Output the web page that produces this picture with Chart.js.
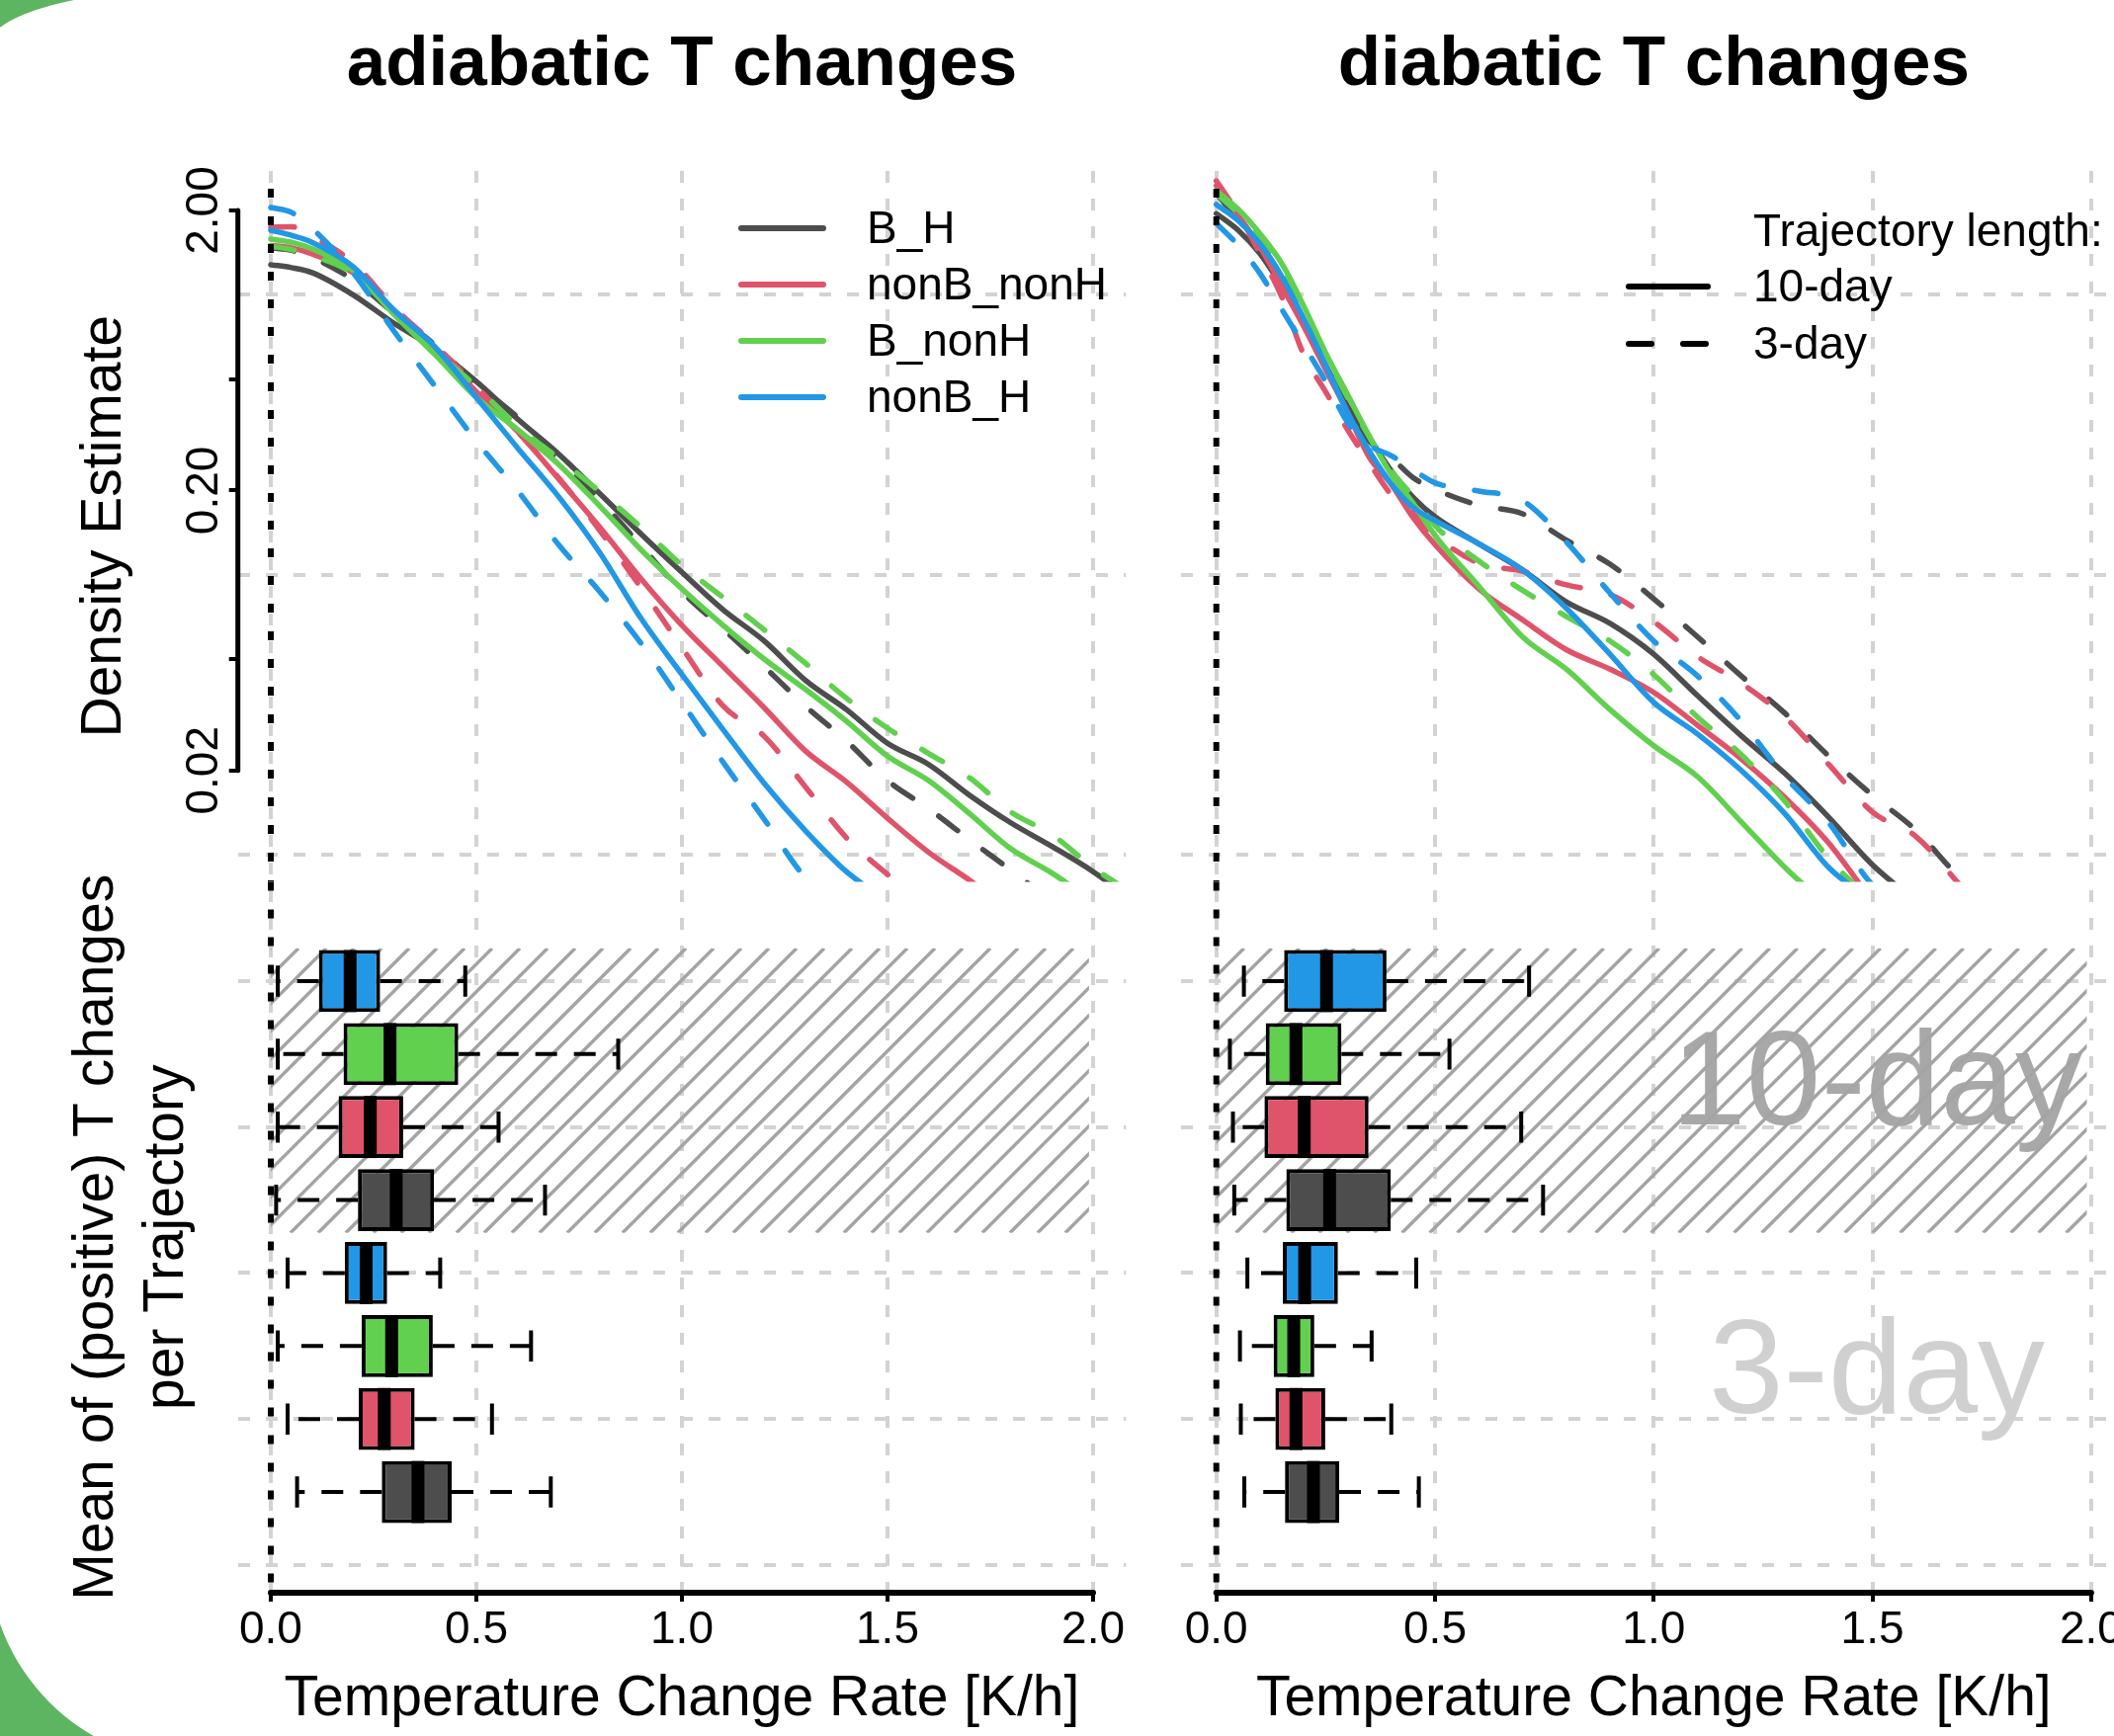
<!DOCTYPE html>
<html>
<head>
<meta charset="utf-8">
<script src="https://cdn.jsdelivr.net/npm/chart.js@4/dist/chart.umd.min.js"></script>
<style>
  html, body { margin: 0; padding: 0; width: 2139px; height: 1757px; overflow: hidden; background: #5db562; }
  #paper { position: absolute; left: -12px; top: -12px; width: 2200px; height: 1797px; background: #fff;
           border-radius: 220px 0 0 212px / 59px 0 0 212px; }
  canvas { position: absolute; top: 0; }
  #adia { left: 0; }
  #dia { left: 1150px; }
</style>
</head>
<body>
<div id="paper"></div>
<canvas id="adia" width="1150" height="1757"></canvas>
<canvas id="dia" width="1012" height="1757"></canvas>
<script>
const FONT = "'Liberation Sans', Arial, Helvetica, sans-serif";
Chart.defaults.font.family = FONT;
Chart.defaults.color = '#000';

// ---------- data ----------
const seriesNames = ['B_H', 'nonB_nonH', 'B_nonH', 'nonB_H'];
const trajLengths = ['10-day', '3-day'];

// density estimates, adiabatic panel
const xAdia = [0, 0.05, 0.1, 0.2, 0.3, 0.4, 0.5, 0.6, 0.7, 0.8, 0.9, 1.0, 1.1, 1.2, 1.3, 1.4, 1.5, 1.6, 1.7, 1.8, 1.9, 2.0, 2.1];
const adiaBH10   = [1.28, 1.25, 1.20, 1.00, 0.79, 0.64, 0.49, 0.36, 0.27, 0.195, 0.140, 0.102, 0.075, 0.058, 0.042, 0.033, 0.025, 0.021, 0.0163, 0.013, 0.0107, 0.0087, 0.0068];
const adiaBH3    = [1.47, 1.44, 1.36, 1.13, 0.86, 0.66, 0.48, 0.365, 0.255, 0.185, 0.127, 0.087, 0.064, 0.047, 0.034, 0.0255, 0.0184, 0.0146, 0.0113, 0.0088, 0.0068, null, null];
const adiaNBNH10 = [1.50, 1.47, 1.40, 1.20, 0.88, 0.64, 0.45, 0.325, 0.22, 0.148, 0.097, 0.066, 0.047, 0.0335, 0.0235, 0.0182, 0.0135, 0.0102, 0.0081, 0.0063, null, null, null];
const adiaNBNH3  = [1.74, 1.75, 1.62, 1.30, 0.90, 0.66, 0.47, 0.325, 0.222, 0.144, 0.09, 0.055, 0.034, 0.0265, 0.0175, 0.0115, 0.0085, 0.0065, null, null, null, null, null];
const adiaBNH10  = [1.58, 1.54, 1.46, 1.22, 0.85, 0.61, 0.43, 0.33, 0.248, 0.176, 0.123, 0.089, 0.066, 0.050, 0.039, 0.030, 0.0225, 0.0184, 0.014, 0.0105, 0.0086, 0.0068, null];
const adiaBNH3   = [1.49, 1.45, 1.38, 1.19, 0.86, 0.63, 0.47, 0.34, 0.26, 0.198, 0.148, 0.108, 0.083, 0.0636, 0.0483, 0.0362, 0.0283, 0.023, 0.0188, 0.0142, 0.0118, 0.009, 0.0072];
const adiaNBH10  = [1.70, 1.63, 1.54, 1.26, 0.88, 0.65, 0.43, 0.284, 0.19, 0.12, 0.07, 0.044, 0.028, 0.018, 0.0122, 0.0087, 0.0068, null, null, null, null, null, null];
const adiaNBH3   = [2.05, 1.97, 1.73, 1.2, 0.74, 0.47, 0.30, 0.20, 0.128, 0.087, 0.057, 0.035, 0.0214, 0.0134, 0.0083, 0.0065, null, null, null, null, null, null, null];

// density estimates, diabatic panel
const xDia = [0, 0.05, 0.1, 0.15, 0.2, 0.25, 0.3, 0.35, 0.4, 0.45, 0.5, 0.6, 0.7, 0.8, 0.9, 1.0, 1.1, 1.2, 1.3, 1.4, 1.5, 1.6, 1.7, 1.8];
const diaBH10   = [1.95, 1.70, 1.40, 1.07, 0.79, 0.56, 0.40, 0.308, 0.235, 0.189, 0.161, 0.129, 0.104, 0.080, 0.067, 0.052, 0.037, 0.0266, 0.0195, 0.0136, 0.0092, 0.0068, null, null];
const diaBH3    = [2.30, 1.85, 1.45, 1.07, 0.79, 0.56, 0.40, 0.30, 0.262, 0.222, 0.202, 0.177, 0.165, 0.133, 0.109, 0.082, 0.060, 0.0435, 0.032, 0.0225, 0.0163, 0.0122, 0.0083, 0.0065];
const diaNBNH10 = [2.45, 1.92, 1.48, 1.07, 0.77, 0.54, 0.38, 0.262, 0.21, 0.16, 0.128, 0.089, 0.069, 0.054, 0.046, 0.038, 0.029, 0.022, 0.016, 0.011, 0.0068, null, null, null];
const diaNBNH3  = [2.55, 1.95, 1.40, 0.98, 0.61, 0.45, 0.33, 0.25, 0.193, 0.165, 0.138, 0.110, 0.103, 0.092, 0.085, 0.068, 0.051, 0.041, 0.031, 0.021, 0.0142, 0.0116, 0.0078, null];
const diaBNH10  = [2.35, 2.02, 1.65, 1.29, 0.91, 0.62, 0.44, 0.312, 0.228, 0.18, 0.138, 0.091, 0.060, 0.046, 0.033, 0.0245, 0.019, 0.0131, 0.009, 0.0065, null, null, null, null];
const diaBNH3   = [2.30, 1.95, 1.60, 1.22, 0.88, 0.61, 0.43, 0.31, 0.235, 0.19, 0.15, 0.112, 0.088, 0.071, 0.058, 0.044, 0.031, 0.0228, 0.0155, 0.0097, 0.0068, null, null, null];
const diaNBH10  = [2.10, 1.84, 1.52, 1.16, 0.82, 0.56, 0.38, 0.276, 0.211, 0.174, 0.156, 0.129, 0.104, 0.076, 0.052, 0.035, 0.027, 0.020, 0.014, 0.009, 0.0068, null, null, null];
const diaNBH3   = [1.80, 1.50, 1.19, 0.885, 0.66, 0.49, 0.35, 0.29, 0.266, 0.237, 0.213, 0.199, 0.184, 0.131, 0.086, 0.058, 0.0435, 0.030, 0.019, 0.013, 0.0078, 0.0062, null, null];

// boxplots: rows from top to bottom
const boxSeries = ['nonB_H', 'B_nonH', 'nonB_nonH', 'B_H', 'nonB_H', 'B_nonH', 'nonB_nonH', 'B_H'];
const boxLength = ['10-day', '10-day', '10-day', '10-day', '3-day', '3-day', '3-day', '3-day'];
const boxPos = [1, 2, 3, 4, 5, 6, 7, 8];
const adiaLow  = [0.017, 0.017, 0.017, 0.013, 0.041, 0.017, 0.041, 0.064];
const adiaQ1   = [0.117, 0.177, 0.165, 0.212, 0.180, 0.221, 0.214, 0.270];
const adiaMed  = [0.193, 0.290, 0.242, 0.305, 0.232, 0.294, 0.276, 0.358];
const adiaQ3   = [0.266, 0.456, 0.322, 0.397, 0.283, 0.394, 0.350, 0.440];
const adiaHigh = [0.473, 0.845, 0.554, 0.667, 0.412, 0.633, 0.538, 0.681];
const diaLow   = [0.063, 0.031, 0.038, 0.041, 0.071, 0.054, 0.056, 0.064];
const diaQ1    = [0.155, 0.113, 0.110, 0.160, 0.152, 0.131, 0.135, 0.157];
const diaMed   = [0.252, 0.182, 0.201, 0.259, 0.202, 0.177, 0.182, 0.222];
const diaQ3    = [0.389, 0.286, 0.348, 0.399, 0.278, 0.224, 0.249, 0.281];
const diaHigh  = [0.715, 0.533, 0.697, 0.747, 0.457, 0.355, 0.400, 0.463];

// axes
const xTickVals = [0, 0.5, 1, 1.5, 2];
const densTickVals = [2, 0.5, 0.2, 0.05, 0.02];
const densLabelVals = [2, 0.2, 0.02];
const densGridVals = [1, 0.1, 0.01];
const boxGridVals = [1, 3, 5, 7, 9];
const hatchX = [0, 1.99];
const hatchPos = [0.55, 4.45];
const bandLabelX = 1.51;
const bandLabelPos = [2.96, 6.915];

// ---------- styles ----------
const seriesColors = { B_H: '#4d4d4d', nonB_nonH: '#df536b', B_nonH: '#61d04f', nonB_H: '#2297e6' };
const bandTextColors = ['#a8a8a8', '#d0d0d0'];
const gridGray = '#d3d3d3';
const gridDash = [12, 16];
const curveDash = { '10-day': [], '3-day': [24, 32] };
const clear = 'rgba(0,0,0,0)';
const hatchStep = 28;

function curveList(arrs) {
  // drawing order: first entry ends on top
  return [
    ['nonB_H', '10-day', arrs.NBH10], ['nonB_H', '3-day', arrs.NBH3],
    ['B_nonH', '10-day', arrs.BNH10], ['B_nonH', '3-day', arrs.BNH3],
    ['nonB_nonH', '10-day', arrs.NBNH10], ['nonB_nonH', '3-day', arrs.NBNH3],
    ['B_H', '10-day', arrs.BH10], ['B_H', '3-day', arrs.BH3]
  ];
}

function panelPlugins(p) {
  return [{
    id: 'hatchBand',
    beforeDatasetsDraw(chart) {
      const ctx = chart.ctx, sx = chart.scales.x, sy = chart.scales.yBox;
      ctx.save();
      if (p.bandText) {
        ctx.font = '136px ' + FONT;
        ctx.textAlign = 'center';
        ctx.textBaseline = 'alphabetic';
        trajLengths.forEach((t, i) => {
          ctx.fillStyle = bandTextColors[i];
          ctx.fillText(t, sx.getPixelForValue(bandLabelX), sy.getPixelForValue(bandLabelPos[i]));
        });
      }
      const l = sx.getPixelForValue(hatchX[0]), r = sx.getPixelForValue(hatchX[1]);
      const t = sy.getPixelForValue(hatchPos[0]), b = sy.getPixelForValue(hatchPos[1]);
      ctx.beginPath();
      ctx.rect(l, t, r - l, b - t);
      ctx.clip();
      ctx.strokeStyle = '#a4a4a4';
      ctx.lineWidth = 3.4;
      ctx.beginPath();
      for (let c = l + t; c <= r + b + hatchStep; c += hatchStep) {
        ctx.moveTo(c - b, b);
        ctx.lineTo(c - t, t);
      }
      ctx.stroke();
      ctx.restore();
    }
  }, {
    id: 'boxExtras',
    afterDatasetsDraw(chart) {
      const ctx = chart.ctx, sx = chart.scales.x, sy = chart.scales.yBox;
      const bi = chart.data.datasets.findIndex(d => d.type === 'bar');
      const meta = chart.getDatasetMeta(bi);
      ctx.save();
      ctx.strokeStyle = '#000';
      boxPos.forEach((pos, i) => {
        const h = meta.data[i].height;
        const py = sy.getPixelForValue(pos);
        const pLo = sx.getPixelForValue(p.low[i]), pQ1 = sx.getPixelForValue(p.q1[i]);
        const pMed = sx.getPixelForValue(p.med[i]);
        const pQ3 = sx.getPixelForValue(p.q3[i]), pHi = sx.getPixelForValue(p.high[i]);
        ctx.lineWidth = 4;
        ctx.setLineDash([22, 17]);
        ctx.beginPath();
        ctx.moveTo(pQ1, py); ctx.lineTo(pLo, py);
        ctx.moveTo(pQ3, py); ctx.lineTo(pHi, py);
        ctx.stroke();
        ctx.setLineDash([]);
        ctx.beginPath();
        ctx.moveTo(pLo, py - h / 4); ctx.lineTo(pLo, py + h / 4);
        ctx.moveTo(pHi, py - h / 4); ctx.lineTo(pHi, py + h / 4);
        ctx.stroke();
        ctx.lineWidth = 13;
        ctx.beginPath();
        ctx.moveTo(pMed, py - h / 2); ctx.lineTo(pMed, py + h / 2);
        ctx.stroke();
      });
      ctx.restore();
    }
  }, {
    id: 'axesAndLegend',
    afterDraw(chart) {
      const ctx = chart.ctx, sx = chart.scales.x, area = chart.chartArea;
      ctx.save();
      ctx.strokeStyle = '#000';
      ctx.lineCap = 'round';
      ctx.lineWidth = 6;
      ctx.beginPath();
      ctx.moveTo(sx.getPixelForValue(xTickVals[0]), area.bottom);
      ctx.lineTo(sx.getPixelForValue(xTickVals[xTickVals.length - 1]), area.bottom);
      ctx.stroke();
      if (p.showY) {
        const sy = chart.scales.yTop;
        ctx.lineWidth = 5;
        ctx.beginPath();
        ctx.moveTo(area.left, sy.getPixelForValue(densTickVals[0]));
        ctx.lineTo(area.left, sy.getPixelForValue(densTickVals[densTickVals.length - 1]));
        ctx.stroke();
      }
      // legend
      const lg = p.legend;
      ctx.font = '46px ' + FONT;
      ctx.fillStyle = '#000';
      ctx.textAlign = 'left';
      ctx.textBaseline = 'middle';
      if (lg.title) ctx.fillText(lg.title, lg.textX, lg.titleY);
      lg.items.forEach((it, i) => {
        const y = lg.y0 + i * lg.dy;
        ctx.strokeStyle = it.color;
        ctx.lineWidth = 6;
        ctx.setLineDash(it.dash);
        ctx.beginPath();
        ctx.moveTo(lg.x0, y); ctx.lineTo(lg.x1, y);
        ctx.stroke();
        ctx.fillText(it.text, lg.textX, y + 2);
      });
      ctx.restore();
    }
  }];
}

function buildPanel(canvasId, p) {
  const datasets = [];
  datasets.push({
    type: 'line', label: 'x0 top', yAxisID: 'yTop', xAxisID: 'x',
    data: [{ x: 0, y: 3 }, { x: 0, y: 0.005 }],
    borderColor: '#000', borderWidth: 6, borderDash: [9, 19], pointRadius: 0, tension: 0
  });
  datasets.push({
    type: 'line', label: 'x0 bottom', yAxisID: 'yBox', xAxisID: 'x',
    data: [{ x: 0, y: -0.36 }, { x: 0, y: 9.38 }],
    borderColor: '#000', borderWidth: 6, borderDash: [9, 19], pointRadius: 0, tension: 0
  });
  p.curves.forEach(([name, len, ys]) => {
    datasets.push({
      type: 'line', label: name + ' ' + len, yAxisID: 'yTop', xAxisID: 'x',
      data: p.xs.map((x, i) => ({ x: x, y: ys[i] })),
      borderColor: seriesColors[name], borderWidth: 5.5, borderDash: curveDash[len],
      borderCapStyle: 'round', borderJoinStyle: 'round',
      pointRadius: 0, cubicInterpolationMode: 'monotone', fill: false
    });
  });
  datasets.push({
    type: 'bar', label: 'boxes', indexAxis: 'y', xAxisID: 'x', yAxisID: 'yBox',
    data: boxPos.map((pos, i) => ({ y: pos, x: [p.q1[i], p.q3[i]] })),
    backgroundColor: boxSeries.map(s => seriesColors[s]),
    borderColor: '#000', borderWidth: 4, borderSkipped: false,
    categoryPercentage: 1, barPercentage: 0.85, grouped: false
  });

  return new Chart(document.getElementById(canvasId), {
    type: 'line',
    data: { datasets: datasets },
    plugins: panelPlugins(p),
    options: {
      responsive: false, animation: false, devicePixelRatio: 1, events: [],
      layout: { padding: { left: 0, right: 10.7, top: 0, bottom: 0 } },
      plugins: {
        legend: { display: false },
        tooltip: { enabled: false },
        title: {
          display: true, text: p.title, fullSize: false, color: '#000',
          font: { size: 71, weight: 'bold' }, padding: { top: 24, bottom: 63.8 }
        }
      },
      scales: {
        yTop: {
          type: 'logarithmic', position: 'left', stack: 'col', stackWeight: 1, weight: 2,
          min: 0.008, max: 2.768, offset: false,
          afterBuildTicks: s => { s.ticks = densTickVals.concat(densGridVals).sort((a, b) => a - b).map(v => ({ value: v })); },
          afterFit: s => { s.width = p.axisWidth; },
          ticks: {
            display: p.showY, autoSkip: false, minRotation: 90, maxRotation: 90, crossAlign: 'center',
            padding: -20.75, font: { size: 46 }, color: '#000',
            callback: v => densLabelVals.includes(v) ? v.toFixed(2) : ''
          },
          grid: {
            color: c => densGridVals.includes(c.tick.value) ? gridGray : clear, lineWidth: 4, offset: false,
            drawTicks: p.showY, tickLength: 9, tickWidth: 4,
            tickColor: c => densTickVals.includes(c.tick.value) ? '#000' : clear
          },
          border: { display: false, dash: gridDash },
          title: { display: p.showY, text: 'Density Estimate', font: { size: 57 }, padding: { top: 71.8, bottom: 0 } }
        },
        yBox: {
          type: 'linear', position: 'left', stack: 'col', stackWeight: 1, weight: 1,
          min: -0.36, max: 9.38, reverse: true, offset: false,
          afterBuildTicks: s => { s.ticks = boxGridVals.map(v => ({ value: v })); },
          afterFit: s => { s.width = p.axisWidth; },
          ticks: { display: false },
          grid: { color: gridGray, lineWidth: 4, drawTicks: false, offset: false },
          border: { display: false, dash: gridDash },
          title: {
            display: p.showY, text: ['Mean of (positive) T changes', 'per Trajectory'],
            font: { size: 57, lineHeight: 1.246 }, padding: { top: 63, bottom: 0 }
          }
        },
        x: {
          type: 'linear', position: 'bottom', min: -0.08, max: 2.08, offset: false,
          afterBuildTicks: s => { s.ticks = xTickVals.map(v => ({ value: v })); },
          afterFit: s => { s.height = 145; },
          ticks: { autoSkip: false, maxRotation: 0, padding: 2, font: { size: 46 }, color: '#000', callback: v => v.toFixed(1) },
          grid: { color: gridGray, lineWidth: 4, tickLength: 9, tickWidth: 4, tickColor: '#000', offset: false },
          border: { display: false, dash: gridDash },
          title: { display: true, text: 'Temperature Change Rate [K/h]', font: { size: 57 }, padding: { top: 0, bottom: 2.5 } }
        }
      }
    }
  });
}

buildPanel('adia', {
  title: 'adiabatic T changes', xs: xAdia, showY: true, axisWidth: 240.7, bandText: false,
  curves: curveList({ BH10: adiaBH10, BH3: adiaBH3, NBNH10: adiaNBNH10, NBNH3: adiaNBNH3, BNH10: adiaBNH10, BNH3: adiaBNH3, NBH10: adiaNBH10, NBH3: adiaNBH3 }),
  low: adiaLow, q1: adiaQ1, med: adiaMed, q3: adiaQ3, high: adiaHigh,
  legend: {
    x0: 750, x1: 833, textX: 877, y0: 231, dy: 57,
    items: seriesNames.map(s => ({ text: s, color: seriesColors[s], dash: [] }))
  }
});

buildPanel('dia', {
  title: 'diabatic T changes', xs: xDia, showY: false, axisWidth: 45.3, bandText: true,
  curves: curveList({ BH10: diaBH10, BH3: diaBH3, NBNH10: diaNBNH10, NBNH3: diaNBNH3, BNH10: diaBNH10, BNH3: diaBNH3, NBH10: diaNBH10, NBH3: diaNBH3 }),
  low: diaLow, q1: diaQ1, med: diaMed, q3: diaQ3, high: diaHigh,
  legend: {
    title: 'Trajectory length:', titleY: 236, x0: 498, x1: 578, textX: 624, y0: 290, dy: 58,
    items: trajLengths.map(t => ({ text: t, color: '#000', dash: t === '3-day' ? [23, 32] : [] }))
  }
});
</script>
</body>
</html>
